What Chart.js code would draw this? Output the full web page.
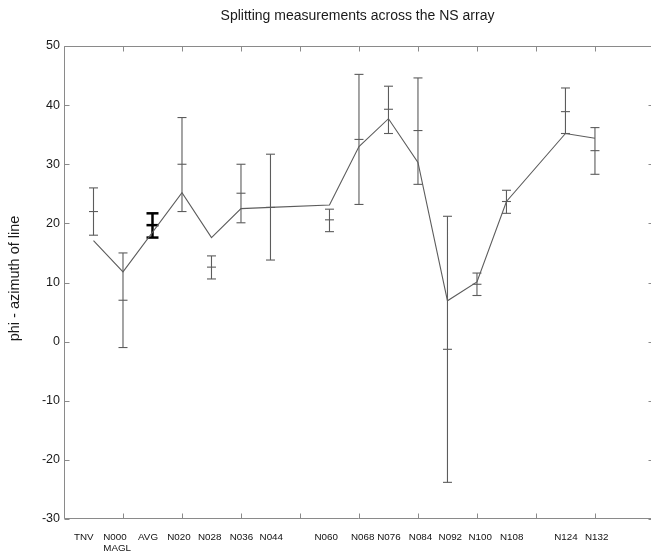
<!DOCTYPE html>
<html>
<head>
<meta charset="utf-8">
<script src="https://cdn.jsdelivr.net/npm/chart.js@4.4.1/dist/chart.umd.min.js"></script>
<style>
  html, body { margin: 0; padding: 0; background: #fff; overflow: hidden; }
  canvas { display: block; }
</style>
</head>
<body>
<canvas id="split-chart" width="651" height="554"></canvas>
<script>
// ------- Data --------------------------------------------------------------

const STATIONS  = ['TNV', 'N000', 'AVG', 'N020', 'N028', 'N036', 'N044', 'N060',
                   'N068', 'N076', 'N084', 'N092', 'N100', 'N108', 'N124', 'N132'];
const STATION_X = [1, 2, 3, 4, 5, 6, 7, 9, 10, 11, 12, 13, 14, 15, 17, 18];

// error bar top / centre / bottom
const PHI_HIGH  = [26.0, 15.0, 21.7, 37.9, 14.5, 30.0, 31.7, 22.4, 45.2, 43.2, 44.6, 21.2, 11.6, 25.6, 42.9, 36.2];
const PHI_MID   = [22.0,  7.0, 19.7, 30.0, 12.6, 25.1, 22.7, 20.6, 34.2, 39.3, 35.7, -1.3,  9.7, 23.7, 38.9, 32.3];
const PHI_LOW   = [18.0, -1.0, 17.6, 22.0, 10.6, 20.1, 13.8, 18.6, 23.2, 35.2, 26.6, -23.8, 7.8, 21.7, 35.2, 28.3];

// the joined line (no vertex at AVG)
const PHI_LINE  = [17.1, 11.8, null, 25.2, 17.6, 22.5, 22.7, 23.1, 33.0, 37.7, 30.3, 6.9, 10.1, 23.7, 35.2, 34.4];

const AVG = 'AVG';

// bottom text row, left edges in x units
const TICK_LABELS  = [['TNV'], ['N000', 'MAGL'], ['AVG'], ['N020'], ['N028'], ['N036'], ['N044'], ['N060'],
                      ['N068'], ['N076'], ['N084'], ['N092'], ['N100'], ['N108'], ['N124'], ['N132']];
const TICK_LABEL_X = [0.34, 1.33, 2.51, 3.50, 4.54, 5.62, 6.63, 8.49, 9.73, 10.62, 11.69, 12.70, 13.71, 14.78, 16.62, 17.66];

// x axis runs 0..20, the right edge of the box falls just past the picture
const X_MIN = 0, X_MAX = 20, X_SHOWN = 19.9;

// ---------------------------------------------------------------------------

const GREY = '#5c5c5c';
const FONT = '"Liberation Sans", Arial, sans-serif';
const TICK_LEN = 5;

const isAvg = i => STATIONS[i] === AVG;

function barSegments (pick) {
  const out = [];
  STATIONS.forEach((s, i) => {
    if (!pick(i)) return;
    out.push({ x: STATION_X[i], y: PHI_LOW[i] }, { x: STATION_X[i], y: PHI_HIGH[i] }, { x: STATION_X[i], y: null });
  });
  return out;
}

function barCaps (pick) {
  const out = [];
  STATIONS.forEach((s, i) => {
    if (!pick(i)) return;
    out.push({ x: STATION_X[i], y: PHI_HIGH[i] }, { x: STATION_X[i], y: PHI_MID[i] }, { x: STATION_X[i], y: PHI_LOW[i] });
  });
  return out;
}

// box round the plot with inward tick marks (MATLAB style)
const frame = {
  id: 'frame',
  beforeDatasetsDraw (chart) {
    const { ctx, chartArea: a, scales: { x, y } } = chart;
    const L = Math.round(a.left) + 0.5;
    const R = Math.round(x.getPixelForValue(X_MAX)) - 0.5;
    const T = Math.round(a.top) + 0.5,  B = Math.round(a.bottom) - 0.5;
    ctx.save();
    ctx.strokeStyle = '#8a8a8a';
    ctx.lineWidth = 1;
    ctx.beginPath();
    ctx.moveTo(R, T); ctx.lineTo(L, T); ctx.lineTo(L, B); ctx.lineTo(R, B); ctx.lineTo(R, T);
    x.ticks.forEach(t => {
      const px = Math.round(x.getPixelForValue(t.value)) + 0.5;
      ctx.moveTo(px, B); ctx.lineTo(px, B - TICK_LEN);
      ctx.moveTo(px, T); ctx.lineTo(px, T + TICK_LEN);
    });
    y.ticks.forEach(t => {
      const py = Math.round(y.getPixelForValue(t.value)) + 0.5;
      ctx.moveTo(L, py); ctx.lineTo(L + TICK_LEN, py);
      ctx.moveTo(R, py); ctx.lineTo(R - TICK_LEN, py);
    });
    ctx.stroke();
    ctx.restore();
  }
};

const ctx = document.getElementById('split-chart').getContext('2d');

new Chart(ctx, {
  data: {
    datasets: [
      {
        type: 'line',
        data: STATIONS.map((s, i) => ({ x: STATION_X[i], y: PHI_LINE[i] })),
        borderColor: GREY, borderWidth: 1.1, pointRadius: 0, spanGaps: true, tension: 0
      },
      {
        type: 'line',
        data: barSegments(i => !isAvg(i)),
        borderColor: GREY, borderWidth: 1.1, pointRadius: 0, spanGaps: false
      },
      {
        type: 'scatter',
        data: barCaps(i => !isAvg(i)),
        pointStyle: 'line', pointRadius: 4.5, borderColor: GREY, borderWidth: 1.1
      },
      {
        type: 'line',
        data: barSegments(isAvg),
        borderColor: '#000', borderWidth: 2.5, pointRadius: 0, spanGaps: false
      },
      {
        type: 'scatter',
        data: barCaps(isAvg),
        pointStyle: 'line', pointRadius: 6, borderColor: '#000', borderWidth: 2.5
      }
    ]
  },
  options: {
    responsive: false,
    animation: false,
    events: [],
    layout: { padding: 0, autoPadding: false },
    plugins: {
      legend: { display: false },
      tooltip: { enabled: false },
      title: {
        display: true,
        fullSize: false,
        text: 'Splitting measurements across the NS array',
        color: '#1a1a1a',
        font: { family: FONT, size: 14, weight: 'normal', lineHeight: 1.2 },
        padding: { top: 7.6, bottom: 21.6 }
      }
    },
    scales: {
      x: {
        type: 'linear',
        display: false,
        min: X_MIN, max: X_SHOWN,
        ticks: { stepSize: 2 }
      },
      xl: {
        type: 'linear',
        position: 'bottom',
        min: X_MIN, max: X_SHOWN,
        grid: { display: false, drawTicks: false },
        border: { display: false },
        afterBuildTicks (scale) { scale.ticks = TICK_LABEL_X.map(v => ({ value: v })); },
        afterFit (scale) { scale.height = 35; },
        ticks: {
          autoSkip: false, maxRotation: 0, minRotation: 0,
          align: 'start', padding: 13,
          color: '#111',
          font: { family: FONT, size: 9.8, lineHeight: 1.12 },
          callback: (v, i) => TICK_LABELS[i]
        }
      },
      y: {
        type: 'linear',
        min: -30, max: 50,
        grid: { display: false, drawTicks: false },
        border: { display: false },
        afterFit (scale) { scale.width = 64; },
        ticks: {
          stepSize: 10, padding: 4,
          color: '#1a1a1a',
          font: { family: FONT, size: 12.5 }
        },
        title: {
          display: true,
          text: '  phi - azimuth of line',
          color: '#1a1a1a',
          font: { family: FONT, size: 14.5, lineHeight: 1.2 },
          padding: { top: 6, bottom: 0 }
        }
      }
    }
  },
  plugins: [frame]
});
</script>
</body>
</html>
